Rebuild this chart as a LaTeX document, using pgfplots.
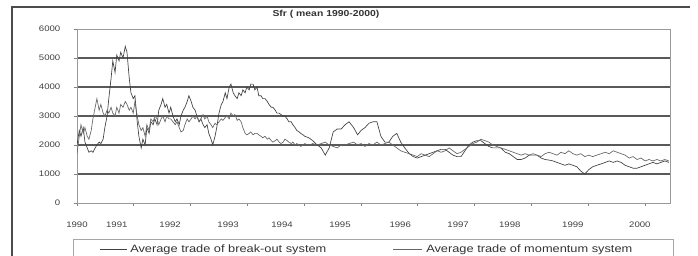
\documentclass[border=0pt]{standalone}
\usepackage{fontspec}
\setmainfont{Liberation Sans}[FakeStretch=1.2]
\usepackage{pgfplots}
\pgfplotsset{compat=1.18}
\usepackage{pgfplotstable}

\pgfplotstableread{
t v
1990.00 2000
1990.04 2500
1990.07 2300
1990.11 2600
1990.14 2100
1990.18 1900
1990.21 1750
1990.25 1800
1990.28 1750
1990.32 1900
1990.35 2000
1990.39 2100
1990.42 2050
1990.46 2200
1990.49 2600
1990.53 3000
1990.56 3600
1990.60 4300
1990.63 4900
1990.67 4500
1990.70 5100
1990.74 4900
1990.77 5200
1990.81 5000
1990.85 5400
1990.88 5200
1990.92 4300
1990.95 3800
1990.99 3600
1991.02 3700
1991.06 2800
1991.09 2300
1991.13 1900
1991.16 2200
1991.20 2000
1991.23 2600
1991.27 2400
1991.30 2800
1991.34 2700
1991.37 2900
1991.41 2700
1991.44 3200
1991.48 3400
1991.51 3600
1991.55 3300
1991.58 3400
1991.62 3100
1991.65 3300
1991.69 3000
1991.73 2800
1991.76 2900
1991.80 2700
1991.83 3000
1991.87 3200
1991.90 3300
1991.94 3500
1991.97 3700
1992.01 3500
1992.04 3300
1992.08 3200
1992.11 3000
1992.15 2800
1992.18 2900
1992.22 2700
1992.25 2600
1992.29 2700
1992.32 2400
1992.36 2200
1992.39 2000
1992.43 2300
1992.46 2600
1992.50 3100
1992.54 3400
1992.57 3500
1992.61 3800
1992.64 3600
1992.68 4000
1992.71 4100
1992.75 3800
1992.78 3700
1992.82 3600
1992.85 3800
1992.89 3700
1992.92 3900
1992.96 3800
1992.99 4000
1993.03 3900
1993.06 4100
1993.10 4100
1993.13 3900
1993.17 4000
1993.20 3700
1993.24 3700
1993.27 3600
1993.31 3600
1993.35 3500
1993.38 3400
1993.42 3300
1993.45 3300
1993.49 3200
1993.52 3100
1993.56 3100
1993.59 3050
1993.63 3000
1993.66 3000
1993.70 2900
1993.73 2800
1993.77 2800
1993.80 2700
1993.84 2600
1993.87 2500
1993.91 2450
1993.94 2400
1993.98 2350
1994.01 2300
1994.08 2250
1994.15 2150
1994.23 2000
1994.30 1900
1994.37 1650
1994.44 1900
1994.51 2450
1994.58 2550
1994.65 2550
1994.72 2700
1994.79 2800
1994.87 2600
1994.94 2350
1995.00 2500
1995.07 2600
1995.14 2750
1995.21 2800
1995.28 2800
1995.35 2300
1995.42 2100
1995.49 2100
1995.56 2300
1995.63 2400
1995.70 2100
1995.77 1900
1995.85 1700
1995.92 1600
1995.99 1550
1996.06 1600
1996.13 1650
1996.20 1700
1996.27 1750
1996.34 1800
1996.41 1850
1996.48 1850
1996.55 1750
1996.62 1650
1996.69 1600
1996.76 1600
1996.83 1800
1996.90 2000
1996.97 2100
1997.04 2150
1997.11 2150
1997.18 2050
1997.25 1950
1997.32 1900
1997.39 1900
1997.46 1900
1997.54 1750
1997.61 1700
1997.68 1600
1997.75 1500
1997.82 1500
1997.89 1550
1997.96 1650
1998.03 1650
1998.10 1650
1998.17 1550
1998.24 1500
1998.31 1480
1998.38 1450
1998.45 1400
1998.52 1350
1998.59 1300
1998.66 1350
1998.73 1300
1998.80 1250
1998.87 1100
1998.94 1000
1999.01 1150
1999.08 1250
1999.15 1300
1999.23 1350
1999.30 1400
1999.37 1450
1999.44 1400
1999.51 1450
1999.58 1400
1999.65 1300
1999.72 1250
1999.79 1200
1999.86 1200
1999.93 1250
2000.00 1300
2000.07 1350
2000.14 1400
2000.21 1350
2000.28 1400
2000.35 1450
2000.42 1400
}\breakout

\pgfplotstableread{
t v
1990.00 1700
1990.04 2300
1990.07 2700
1990.11 2400
1990.14 2600
1990.18 2300
1990.21 2200
1990.25 2500
1990.28 2900
1990.32 3300
1990.35 3600
1990.39 3200
1990.42 3400
1990.46 3100
1990.49 3000
1990.53 3200
1990.56 3100
1990.60 3300
1990.63 3100
1990.67 3000
1990.70 3300
1990.74 3100
1990.77 3400
1990.81 3300
1990.85 3500
1990.88 3400
1990.92 3200
1990.95 3300
1990.99 3100
1991.02 3500
1991.06 3000
1991.09 2700
1991.13 2500
1991.16 2600
1991.20 2300
1991.23 2700
1991.27 2500
1991.30 2900
1991.34 2800
1991.37 3000
1991.41 2900
1991.44 2700
1991.48 2900
1991.51 3000
1991.55 2800
1991.58 3000
1991.62 2900
1991.65 2900
1991.69 2800
1991.73 2700
1991.76 2800
1991.80 2600
1991.83 2450
1991.87 2500
1991.90 2700
1991.94 2900
1991.97 2800
1992.01 2900
1992.04 3000
1992.08 2900
1992.11 3000
1992.15 2800
1992.18 2900
1992.22 3050
1992.25 2900
1992.29 3000
1992.32 2800
1992.36 2700
1992.39 2600
1992.43 2750
1992.46 2700
1992.50 2800
1992.54 2900
1992.57 2850
1992.61 2950
1992.64 3000
1992.68 2900
1992.71 3100
1992.75 3000
1992.78 3050
1992.82 2850
1992.85 2900
1992.89 2800
1992.92 2600
1992.96 2400
1992.99 2350
1993.03 2400
1993.06 2450
1993.10 2350
1993.13 2400
1993.17 2400
1993.20 2350
1993.24 2300
1993.27 2250
1993.31 2300
1993.35 2200
1993.38 2250
1993.42 2150
1993.45 2100
1993.49 2150
1993.52 2200
1993.56 2100
1993.59 2050
1993.63 2100
1993.66 2200
1993.70 2150
1993.73 2100
1993.77 2050
1993.80 2100
1993.84 2000
1993.87 2050
1993.91 2000
1993.94 1950
1993.98 2000
1994.01 2050
1994.08 1980
1994.15 2050
1994.23 2000
1994.30 2050
1994.37 2100
1994.44 2000
1994.51 1950
1994.58 1900
1994.65 2000
1994.72 2000
1994.79 2050
1994.87 2100
1994.94 2000
1995.00 2050
1995.07 1950
1995.14 2050
1995.21 2000
1995.28 2100
1995.35 2000
1995.42 2050
1995.49 2100
1995.56 2000
1995.63 1900
1995.70 1800
1995.77 1750
1995.85 1700
1995.92 1650
1995.99 1600
1996.06 1700
1996.13 1650
1996.20 1600
1996.27 1700
1996.34 1800
1996.41 1750
1996.48 1800
1996.55 1900
1996.62 1800
1996.69 1700
1996.76 1750
1996.83 1850
1996.90 1950
1996.97 2050
1997.04 2100
1997.11 2200
1997.18 2150
1997.25 2100
1997.32 2000
1997.39 1950
1997.46 1900
1997.54 1850
1997.61 1800
1997.68 1750
1997.75 1700
1997.82 1650
1997.89 1700
1997.96 1650
1998.03 1700
1998.10 1650
1998.17 1600
1998.24 1700
1998.31 1750
1998.38 1700
1998.45 1650
1998.52 1750
1998.59 1700
1998.66 1800
1998.73 1700
1998.80 1650
1998.87 1700
1998.94 1600
1999.01 1650
1999.08 1600
1999.15 1650
1999.23 1700
1999.30 1750
1999.37 1700
1999.44 1800
1999.51 1750
1999.58 1700
1999.65 1650
1999.72 1550
1999.79 1600
1999.86 1500
1999.93 1550
2000.00 1450
2000.07 1500
2000.14 1450
2000.21 1500
2000.28 1450
2000.35 1500
2000.42 1450
}\momentum

\begin{document}
\begin{tikzpicture}
\path[use as bounding box] (-57.75pt,-39.75pt) rectangle (465.75pt,152.25pt);
\draw[black!70, line width=1.4pt] (-48.75pt,147pt) -- (459.75pt,147pt);
\draw[black!70, line width=1.4pt] (-48.75pt,147.7pt) -- (-48.75pt,-41pt);
\begin{axis}[
  scale only axis,
  width=444.75pt, height=130.5pt,
  xmin=1990, xmax=2000.44, ymin=0, ymax=6000,
  xtick={1990,1991,...,2000}, xticklabels={},
  extra x ticks={1990,1990.70,1991.64,1992.66,1993.61,1994.63,1995.69,1996.71,1997.62,1998.73,1999.91},
  extra x tick labels={1990,1991,1992,1993,1994,1995,1996,1997,1998,1999,2000},
  extra x tick style={major tick length=0pt},
  ytick={1000,2000,3000,4000,5000},
  extra y ticks={0,6000},
  extra y tick style={grid=none},
  ymajorgrids,
  major grid style={black!65, line width=1.1pt},
  axis line style={black!40, line width=0.6pt},
  tick style={black!50, line width=0.5pt},
  tick align=outside, major tick length=2.5pt,
  xtick pos=lower, ytick pos=left,
  ticklabel style={font=\fontsize{6}{7}\selectfont, text=black!75},
  /pgf/number format/assume math mode=true,
  /pgf/number format/set thousands separator={},
  xticklabel style={yshift=-11pt},
  yticklabel style={xshift=-6.5pt},
]
\addplot[black!75, line width=0.5pt] table[x=t,y=v]{\breakout};
\addplot[black!60, line width=0.5pt] table[x=t,y=v]{\momentum};
\end{axis}
\node[font=\bfseries\fontsize{6.5}{7}\selectfont, text=black!80] at (186.75pt,141.75pt) {Sfr ( mean 1990-2000)};
\draw[black!35, line width=0.6pt] (-3pt,-41pt) -- (-3pt,-27pt) -- (447pt,-27pt) -- (447pt,-41pt);
\draw[black!75, line width=0.5pt] (17.25pt,-35pt) -- (37.5pt,-35pt);
\node[anchor=base west, inner sep=0pt, font=\fontsize{8}{9}\selectfont, text=black!80] at (39.75pt,-37.5pt) {Average trade of break-out system};
\draw[black!60, line width=0.5pt] (237pt,-35pt) -- (258.75pt,-35pt);
\node[anchor=base west, inner sep=0pt, font=\fontsize{8}{9}\selectfont, text=black!80] at (261.75pt,-37.5pt) {Average trade of momentum system};
\end{tikzpicture}
\end{document}
